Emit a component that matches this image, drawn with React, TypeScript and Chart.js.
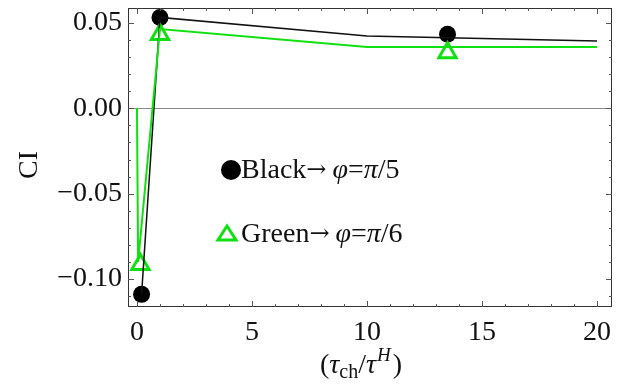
import React, { useEffect, useRef } from "react";
import { Chart, registerables } from "chart.js";
Chart.register(...registerables);

const blackLineX = [0.2, 1, 10, 20];
const blackLineY = [-0.109, 0.0533, 0.0424, 0.0395];
const greenLineX = [0, 0.05, 1, 10, 20];
const greenLineY = [0, -0.09, 0.0465, 0.036, 0.036];
const blackMarkX = [0.2, 1, 13.5];
const blackMarkY = [-0.109, 0.0533, 0.0434];
const greenMarkX = [0.15, 1, 13.5];
const greenMarkY = [-0.0915, 0.0432, 0.0326];
const xTickValues = [0, 5, 10, 15, 20];
const yTickValues = [-0.1, -0.05, 0, 0.05];
const legendLabels = ["Black", "Green"];
const legendPhi = ["π/5", "π/6"];

const SERIF = '"Liberation Serif", "Times New Roman", serif';
const GREEN = "#10e010";

function pts(xs: number[], ys: number[]) {
  return xs.map((x, i) => ({ x, y: ys[i] }));
}

function drawSegments(ctx: CanvasRenderingContext2D, x: number, y: number, segs: any[]) {
  let cx = x;
  for (const s of segs) {
    ctx.font = `${s.italic ? "italic " : ""}${s.size}px ${s.family || SERIF}`;
    ctx.fillText(s.t, cx, y + (s.dy || 0));
    cx += ctx.measureText(s.t).width + (s.gap || 0);
  }
}

const framePlugin = {
  id: "frame",
  beforeDatasetsDraw(chart: any) {
    const { ctx, chartArea: a, scales } = chart;
    const y0 = scales.y.getPixelForValue(0);
    ctx.save();
    ctx.strokeStyle = "#8a8a8a";
    ctx.lineWidth = 1;
    ctx.beginPath();
    ctx.moveTo(a.left, Math.round(y0) + 0.5);
    ctx.lineTo(a.right, Math.round(y0) + 0.5);
    ctx.stroke();
    ctx.restore();
  },
  afterDraw(chart: any) {
    const { ctx, chartArea: a, scales } = chart;
    const xs = scales.x, ys = scales.y;
    ctx.save();
    ctx.strokeStyle = "#333";
    ctx.lineWidth = 1;
    ctx.strokeRect(a.left + 0.5, a.top + 0.5, a.right - a.left - 1, a.bottom - a.top - 1);
    ctx.strokeStyle = "#555";
    ctx.beginPath();
    for (let v = 0; v <= 20; v++) {
      const px = Math.round(xs.getPixelForValue(v)) + 0.5;
      const len = v % 5 === 0 ? 6 : 3;
      ctx.moveTo(px, a.bottom);
      ctx.lineTo(px, a.bottom - len);
      ctx.moveTo(px, a.top);
      ctx.lineTo(px, a.top + len);
    }
    for (let k = -11; k <= 5; k++) {
      const v = k / 100;
      const py = Math.round(ys.getPixelForValue(v)) + 0.5;
      const len = k % 5 === 0 ? 6 : 3;
      ctx.moveTo(a.left, py);
      ctx.lineTo(a.left + len, py);
      ctx.moveTo(a.right, py);
      ctx.lineTo(a.right - len, py);
    }
    ctx.stroke();

    // legend
    ctx.fillStyle = "#000";
    ctx.beginPath();
    ctx.arc(231, 170, 10, 0, Math.PI * 2);
    ctx.fill();
    ctx.strokeStyle = GREEN;
    ctx.lineWidth = 3;
    ctx.beginPath();
    ctx.moveTo(227, 226);
    ctx.lineTo(236, 240);
    ctx.lineTo(218, 240);
    ctx.closePath();
    ctx.stroke();

    ctx.fillStyle = "#111";
    ctx.textAlign = "left";
    ctx.textBaseline = "alphabetic";
    const bases = [178, 242];
    legendLabels.forEach((lab, i) => {
      drawSegments(ctx, 241, bases[i], [
        { t: lab, size: 28 },
        { t: "→", size: 24, family: '"DejaVu Serif", serif', dy: -1, gap: 6 },
        { t: "φ", size: 28, italic: true },
        { t: "=", size: 28 },
        { t: legendPhi[i].slice(0, 1), size: 28, italic: true },
        { t: legendPhi[i].slice(1), size: 28 },
      ]);
    });

    // y title
    ctx.save();
    ctx.translate(37, 165);
    ctx.rotate(-Math.PI / 2);
    ctx.textAlign = "center";
    ctx.font = `28px ${SERIF}`;
    ctx.fillText("CI", 0, 0);
    ctx.restore();

    // x title
    drawSegments(ctx, 320, 373, [
      { t: "(", size: 28 },
      { t: "τ", size: 28, italic: true },
      { t: "ch", size: 20, dy: 5 },
      { t: "/", size: 28 },
      { t: "τ", size: 28, italic: true, gap: 1 },
      { t: "H", size: 19, italic: true, dy: -12, gap: 2 },
      { t: ")", size: 28 },
    ]);
    ctx.restore();
  },
};

export default function App() {
  const ref = useRef<HTMLCanvasElement>(null);
  useEffect(() => {
    document.body.style.margin = "0";
    const chart = new Chart(ref.current!, {
      type: "scatter",
      data: {
        datasets: [
          {
            data: pts(greenLineX, greenLineY),
            showLine: true,
            borderColor: GREEN,
            borderWidth: 2,
            pointRadius: 0,
          },
          {
            data: pts(blackLineX, blackLineY),
            showLine: true,
            borderColor: "#111",
            borderWidth: 1.5,
            pointRadius: 0,
          },
          {
            data: pts(greenMarkX, greenMarkY),
            pointStyle: "triangle",
            pointRadius: 10,
            borderColor: GREEN,
            backgroundColor: "rgba(0,0,0,0)",
            borderWidth: 3,
          },
          {
            data: pts(blackMarkX, blackMarkY),
            pointStyle: "circle",
            pointRadius: 8.5,
            borderColor: "#000",
            backgroundColor: "#000",
            borderWidth: 0,
          },
        ],
      },
      options: {
        animation: false,
        responsive: false,
        maintainAspectRatio: false,
        layout: { autoPadding: false, padding: { left: 0, right: 16, top: 8, bottom: 0 } },
        plugins: { legend: { display: false }, tooltip: { enabled: false } },
        scales: {
          x: {
            type: "linear",
            min: -0.39,
            max: 20.65,
            grid: { display: false, drawTicks: false },
            border: { display: false },
            afterBuildTicks: (s: any) => {
              s.ticks = xTickValues.map((v) => ({ value: v }));
            },
            afterFit: (s: any) => {
              s.height = 79;
              s.paddingLeft = 0;
              s.paddingRight = 0;
            },
            ticks: {
              color: "#111",
              padding: 9,
              maxRotation: 0,
              font: { family: SERIF, size: 28 },
              callback: (v: any) => String(v),
            },
          },
          y: {
            type: "linear",
            min: -0.1164,
            max: 0.0588,
            grid: { display: false, drawTicks: false },
            border: { display: false },
            afterBuildTicks: (s: any) => {
              s.ticks = yTickValues.map((v) => ({ value: v }));
            },
            afterFit: (s: any) => {
              s.width = 128;
              s.paddingTop = 0;
              s.paddingBottom = 0;
            },
            ticks: {
              color: "#111",
              padding: 6,
              font: { family: SERIF, size: 28 },
              callback: (v: any) => {
                const n = Number(v);
                const s = Math.abs(n).toFixed(2);
                return n < -1e-9 ? "\u2212" + s : s;
              },
            },
          },
        },
      },
      plugins: [framePlugin],
    } as any);
    return () => chart.destroy();
  }, []);
  return (
    <div style={{ width: 628, height: 386 }}>
      <canvas ref={ref} width={628} height={386} style={{ display: "block" }} />
    </div>
  );
}
